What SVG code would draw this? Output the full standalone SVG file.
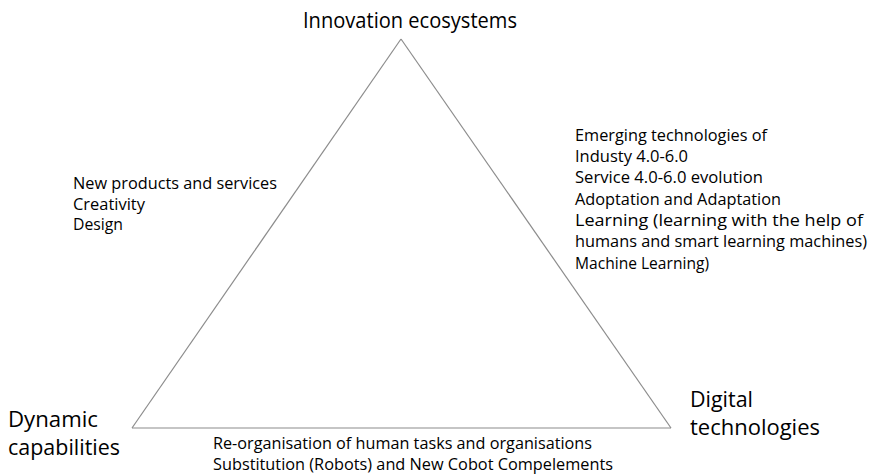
<svg xmlns="http://www.w3.org/2000/svg" width="869" height="474" viewBox="0 0 869 474">
<style>
.big{font-family:"Open Sans","Noto Sans",sans-serif;font-size:21px;fill:#000}
.sm{font-family:"Open Sans","Noto Sans",sans-serif;font-size:15.5px;fill:#000}
.edge{stroke:#8c8c8c;stroke-width:1.2;fill:none}
</style>
<rect width="869" height="474" fill="#fff"/>
<g id="connectors">
<line class="edge" x1="401" y1="39" x2="132" y2="428"/>
<line class="edge" x1="401" y1="39" x2="671" y2="428"/>
<line class="edge" x1="132" y1="428" x2="671" y2="428"/>
</g>
<g id="innovation-ecosystems">
<text class="big" x="303" y="28" textLength="214" lengthAdjust="spacingAndGlyphs">Innovation ecosystems</text>
</g>
<g id="dynamic-capabilities">
<text class="big" x="8" y="427" textLength="90" lengthAdjust="spacingAndGlyphs">Dynamic</text>
<text class="big" x="8" y="455" textLength="112" lengthAdjust="spacingAndGlyphs">capabilities</text>
</g>
<g id="digital-technologies">
<text class="big" x="690" y="407" textLength="63" lengthAdjust="spacingAndGlyphs">Digital</text>
<text class="big" x="690" y="435" textLength="130" lengthAdjust="spacingAndGlyphs">technologies</text>
</g>
<g id="left-edge-label">
<text class="sm" x="73" y="189" textLength="204" lengthAdjust="spacingAndGlyphs">New products and services</text>
<text class="sm" x="73" y="209.5" textLength="72" lengthAdjust="spacingAndGlyphs">Creativity</text>
<text class="sm" x="73" y="230" textLength="50" lengthAdjust="spacingAndGlyphs">Design</text>
</g>
<g id="right-edge-label">
<text class="sm" x="575" y="140.7" textLength="192" lengthAdjust="spacingAndGlyphs">Emerging technologies of</text>
<text class="sm" x="575" y="162" textLength="113" lengthAdjust="spacingAndGlyphs">Industy 4.0-6.0</text>
<text class="sm" x="575" y="183.3" textLength="188" lengthAdjust="spacingAndGlyphs">Service 4.0-6.0 evolution</text>
<text class="sm" x="575" y="204.7" textLength="206" lengthAdjust="spacingAndGlyphs">Adoptation and Adaptation</text>
<text class="sm" x="575" y="226" textLength="288" lengthAdjust="spacingAndGlyphs">Learning (learning with the help of</text>
<text class="sm" x="575" y="247.3" textLength="292" lengthAdjust="spacingAndGlyphs">humans and smart learning machines)</text>
<text class="sm" x="575" y="268.7" textLength="134" lengthAdjust="spacingAndGlyphs">Machine Learning)</text>
</g>
<g id="bottom-edge-label">
<text class="sm" x="213" y="449" textLength="379" lengthAdjust="spacingAndGlyphs">Re-organisation of human tasks and organisations</text>
<text class="sm" x="213" y="470" textLength="400" lengthAdjust="spacingAndGlyphs">Substitution (Robots) and New Cobot Compelements</text>
</g>
</svg>
